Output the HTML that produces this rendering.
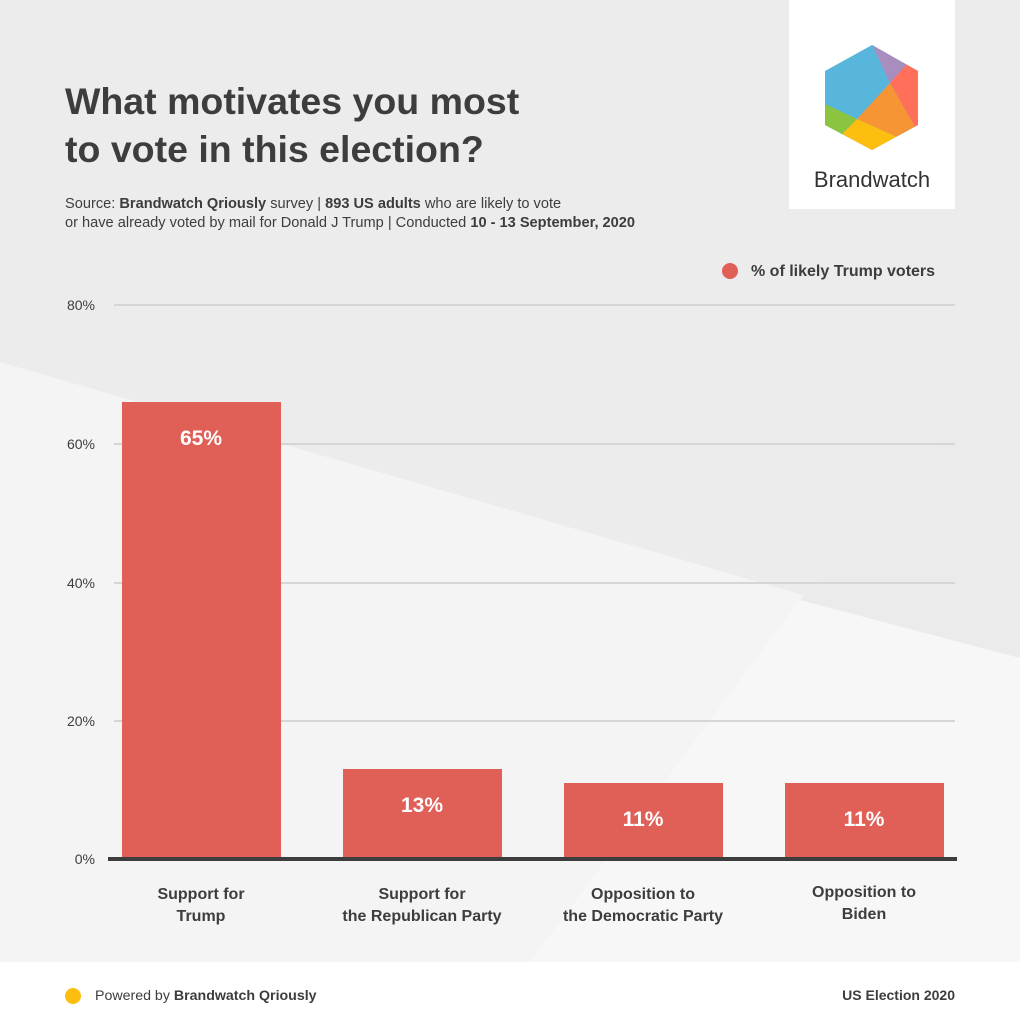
<!DOCTYPE html>
<html><head><meta charset="utf-8"><style>
body{margin:0;width:1020px;height:1029px;overflow:hidden;font-family:"Liberation Sans",sans-serif;}
</style></head><body>
<svg width="1020" height="1029" viewBox="0 0 1020 1029" xmlns="http://www.w3.org/2000/svg" font-family="Liberation Sans, sans-serif">
<rect width="1020" height="1029" fill="#ececec"/>
<polygon points="0,362 1020,658 1020,962 0,962" fill="#f4f4f4"/>
<polygon points="530,962 800,600 1020,340 1020,962" fill="#f7f7f7"/>
<polygon points="800,600 1020,658 1020,340" fill="#ebebeb"/>
<rect y="962" width="1020" height="67" fill="#fff"/>
<rect x="789" y="0" width="166" height="209" fill="#fff"/>
<clipPath id="hx"><polygon points="872,45 918,71 918,125 872,150 825,125 825,71" stroke-linejoin="round"/></clipPath>
<g clip-path="url(#hx)">
<rect x="820" y="40" width="110" height="115" fill="#58b6dc"/>
<polygon points="870,40 930,40 930,63 908,63 890,83" fill="#a98dbf"/>
<polygon points="890,83 908,63 930,63 930,130 915,127" fill="#ff6f5a"/>
<polygon points="890,83 915,127 897,137 857,119" fill="#f79433"/>
<polygon points="857,119 897,137 930,130 930,155 843,155 843,133" fill="#fdbe10"/>
<polygon points="820,104 825,104 857,119 843,133 843,155 820,155" fill="#8bc43f"/>
</g>
<text x="872" y="187" text-anchor="middle" font-size="22" fill="#333">Brandwatch</text>
<text x="65" y="114" font-size="37.5" font-weight="bold" fill="#3d3d3d">What motivates you most</text>
<text x="65" y="162" font-size="37.5" font-weight="bold" fill="#3d3d3d">to vote in this election?</text>
<text x="65" y="208" font-size="14.6" fill="#3d3d3d">Source: <tspan font-weight="bold">Brandwatch Qriously</tspan> survey | <tspan font-weight="bold">893 US adults</tspan> who are likely to vote</text>
<text x="65" y="227" font-size="14.6" fill="#3d3d3d">or have already voted by mail for Donald J Trump | Conducted <tspan font-weight="bold">10 - 13 September, 2020</tspan></text>
<circle cx="730" cy="271" r="8" fill="#e05f57"/>
<text x="751" y="276" font-size="16" font-weight="bold" fill="#3d3d3d">% of likely Trump voters</text>
<g stroke="#d6d6d6" stroke-width="2">
<line x1="114" y1="305" x2="955" y2="305"/><line x1="114" y1="444" x2="955" y2="444"/>
<line x1="114" y1="583" x2="955" y2="583"/><line x1="114" y1="721" x2="955" y2="721"/>
</g>
<g font-size="14" fill="#3d3d3d" text-anchor="end">
<text x="95" y="310">80%</text><text x="95" y="449">60%</text><text x="95" y="588">40%</text><text x="95" y="726">20%</text><text x="95" y="864">0%</text>
</g>
<g fill="#e05f57">
<rect x="122" y="402" width="159" height="457"/><rect x="343" y="769" width="159" height="90"/>
<rect x="564" y="783" width="159" height="76"/><rect x="785" y="783" width="159" height="76"/>
</g>
<rect x="108" y="857" width="849" height="4" fill="#3d3d3d"/>
<g font-size="21" font-weight="bold" fill="#fff" text-anchor="middle">
<text x="201" y="445">65%</text><text x="422" y="812">13%</text><text x="643" y="826">11%</text><text x="864" y="826">11%</text>
</g>
<g font-size="16" font-weight="bold" fill="#3d3d3d" text-anchor="middle">
<text x="201" y="899">Support for</text><text x="201" y="921">Trump</text>
<text x="422" y="899">Support for</text><text x="422" y="921">the Republican Party</text>
<text x="643" y="899">Opposition to</text><text x="643" y="921">the Democratic Party</text>
<text x="864" y="897">Opposition to</text><text x="864" y="919">Biden</text>
</g>
<circle cx="73" cy="996" r="8" fill="#fdbe10"/>
<text x="95" y="1000" font-size="14.2" fill="#3d3d3d">Powered by <tspan font-weight="bold">Brandwatch Qriously</tspan></text>
<text x="955" y="1000" font-size="14" font-weight="bold" fill="#3d3d3d" text-anchor="end">US Election 2020</text>
</svg>
</body></html>
